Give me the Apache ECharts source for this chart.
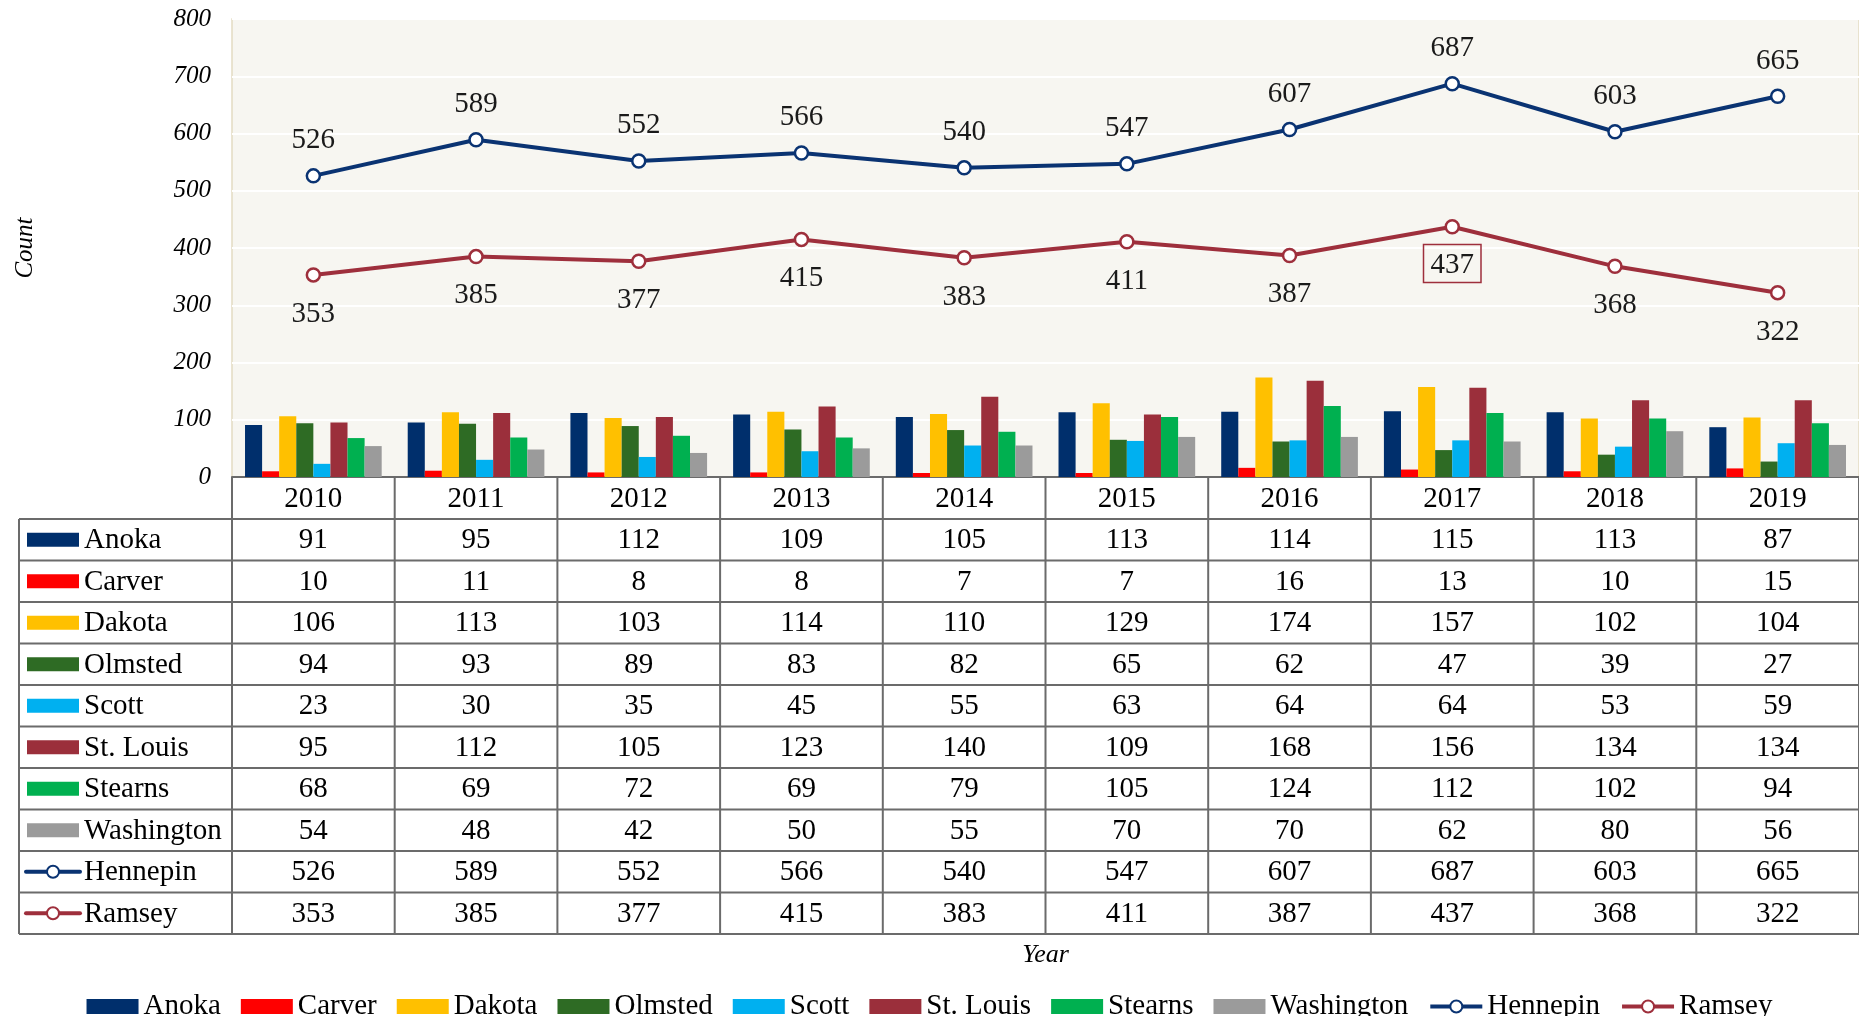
<!DOCTYPE html>
<html>
<head>
<meta charset="utf-8">
<title>County counts 2010-2019</title>
<script src="https://cdn.jsdelivr.net/npm/echarts@6/dist/echarts.min.js"></script>
<style>
    html, body { margin: 0; padding: 0; background: #ffffff; }
    #chart { width: 1859px; height: 1016px; }
</style>
</head>
<body>
<div id="chart"></div>
<script>
// chart values
const years = ['2010', '2011', '2012', '2013', '2014', '2015', '2016', '2017', '2018', '2019'];

const anoka = [91, 95, 112, 109, 105, 113, 114, 115, 113, 87];
const carver = [10, 11, 8, 8, 7, 7, 16, 13, 10, 15];
const dakota = [106, 113, 103, 114, 110, 129, 174, 157, 102, 104];
const olmsted = [94, 93, 89, 83, 82, 65, 62, 47, 39, 27];
const scott = [23, 30, 35, 45, 55, 63, 64, 64, 53, 59];
const stLouis = [95, 112, 105, 123, 140, 109, 168, 156, 134, 134];
const stearns = [68, 69, 72, 69, 79, 105, 124, 112, 102, 94];
const washington = [54, 48, 42, 50, 55, 70, 70, 62, 80, 56];
const hennepin = [526, 589, 552, 566, 540, 547, 607, 687, 603, 665];
const ramsey = [353, 385, 377, 415, 383, 411, 387, 437, 368, 322];

const yTicks = [0, 100, 200, 300, 400, 500, 600, 700, 800];

const FONT = '"Liberation Serif", "Times New Roman", serif';

const barSeries = [
    { name: 'Anoka', data: anoka, color: '#002f6c' },
    { name: 'Carver', data: carver, color: '#ff0000' },
    { name: 'Dakota', data: dakota, color: '#ffc000' },
    { name: 'Olmsted', data: olmsted, color: '#2e6b24' },
    { name: 'Scott', data: scott, color: '#00b0f0' },
    { name: 'St. Louis', data: stLouis, color: '#9b2f3b' },
    { name: 'Stearns', data: stearns, color: '#00b050' },
    { name: 'Washington', data: washington, color: '#9b9b9b' }
];

const lineSeries = [
    { name: 'Hennepin', data: hennepin, color: '#0a3372', labelPos: 'top', dist: 13 },
    { name: 'Ramsey', data: ramsey, color: '#9e2f3c', labelPos: 'bottom', dist: 17 }
];

const GRID = { left: 232, top: 19, right: -4, bottom: 539 };
const TABLE_LEFT = 19;
const HEADER_BOTTOM = 519;
const ROW_H = 41.5;
const TABLE_FONT = 29;

const chart = echarts.init(document.getElementById('chart'));

function buildLineData(s) {
    return s.data.map((v, i) => {
        // the 2017 Ramsey point carries a framed label
        if (s.name === 'Ramsey' && i === 7) {
            return {
                value: v,
                label: {
                    borderColor: s.color,
                    borderWidth: 1.5,
                    padding: [6, 7, 3, 7],
                    distance: 10
                }
            };
        }
        return v;
    });
}

const option = {
    animation: false,
    textStyle: { fontFamily: FONT },
    grid: {
        left: GRID.left,
        top: GRID.top,
        right: GRID.right,
        bottom: GRID.bottom,
        show: true,
        backgroundColor: '#f7f6f1',
        borderColor: '#e4dcc2',
        borderWidth: 1.5
    },
    legend: {
        top: 987,
        left: 'center',
        itemWidth: 52,
        itemHeight: 15,
        itemGap: 20,
        textStyle: { fontFamily: FONT, fontSize: 29, color: '#000' },
        data: barSeries.map(s => ({ name: s.name, icon: 'rect' }))
            .concat(lineSeries.map(s => ({
                name: s.name,
                lineStyle: { width: 4 },
                itemStyle: { borderWidth: 2 }
            })))
    },
    xAxis: {
        type: 'category',
        data: years,
        name: 'Year',
        nameLocation: 'middle',
        nameGap: 465,
        nameTextStyle: { fontFamily: FONT, fontSize: 26, fontStyle: 'italic', color: '#000' },
        axisLine: { show: true, lineStyle: { color: '#6b6b6b', width: 2 } },
        axisTick: { show: false },
        axisLabel: { show: false }
    },
    yAxis: {
        type: 'value',
        min: yTicks[0],
        max: yTicks[yTicks.length - 1],
        interval: 100,
        name: 'Count',
        nameLocation: 'middle',
        nameRotate: 90,
        nameGap: 194,
        nameTextStyle: { fontFamily: FONT, fontSize: 25, fontStyle: 'italic', color: '#000' },
        axisLine: { show: false },
        axisTick: { show: false },
        axisLabel: {
            margin: 21,
            fontFamily: FONT,
            fontSize: 25,
            fontStyle: 'italic',
            color: '#000'
        },
        splitLine: { lineStyle: { color: '#ffffff', width: 2 } }
    },
    series: barSeries.map(s => ({
        name: s.name,
        type: 'bar',
        data: s.data,
        barGap: '0%',
        barCategoryGap: '16%',
        itemStyle: { color: s.color }
    })).concat(lineSeries.map(s => ({
        name: s.name,
        type: 'line',
        data: buildLineData(s),
        symbol: 'circle',
        symbolSize: 13,
        z: 5,
        lineStyle: { color: s.color, width: 4 },
        itemStyle: { color: '#ffffff', borderColor: s.color, borderWidth: 2.5 },
        label: {
            show: true,
            position: s.labelPos,
            distance: s.dist,
            fontFamily: FONT,
            fontSize: 29,
            color: '#1a1a1a'
        }
    })))
};

chart.setOption(option);

// data table under the plot, lined up with the category axis
function buildTable() {
    const centers = years.map(y => chart.convertToPixel({ xAxisIndex: 0 }, y));
    const colW = centers[1] - centers[0];
    const plotLeft = GRID.left;
    const plotRight = centers[centers.length - 1] + colW / 2;
    const axisY = chart.convertToPixel({ yAxisIndex: 0 }, 0);
    const rows = barSeries.concat(lineSeries);
    const tableBottom = HEADER_BOTTOM + ROW_H * rows.length;
    const lineColor = '#6b6b6b';
    const els = [];

    const hLine = (x1, x2, y) => els.push({
        type: 'line', shape: { x1, y1: y, x2, y2: y },
        style: { stroke: lineColor, lineWidth: 2 }, z: 10
    });
    const vLine = (x, y1, y2) => els.push({
        type: 'line', shape: { x1: x, y1, x2: x, y2 },
        style: { stroke: lineColor, lineWidth: 2 }, z: 10
    });
    const cellText = (text, x, y, align) => els.push({
        type: 'text', x, y, z: 11,
        style: {
            text, fontFamily: FONT, fontSize: TABLE_FONT, fill: '#000',
            align: align || 'center', verticalAlign: 'middle'
        }
    });

    // horizontal rules
    hLine(TABLE_LEFT, plotRight, HEADER_BOTTOM);
    for (let r = 1; r <= rows.length; r++) {
        hLine(TABLE_LEFT, plotRight, HEADER_BOTTOM + ROW_H * r);
    }
    // vertical rules
    vLine(TABLE_LEFT, HEADER_BOTTOM, tableBottom);
    for (let c = 0; c <= years.length; c++) {
        vLine(plotLeft + colW * c, axisY, tableBottom);
    }

    // header with the years
    years.forEach((y, c) => cellText(y, centers[c], (axisY + HEADER_BOTTOM) / 2 + 1));

    rows.forEach((s, r) => {
        const cy = HEADER_BOTTOM + ROW_H * (r + 0.5) + 1;
        if (lineSeries.includes(s)) {
            els.push({
                type: 'line', shape: { x1: 26, y1: cy - 1, x2: 80, y2: cy - 1 },
                style: { stroke: s.color, lineWidth: 4, lineCap: 'round' }, z: 11
            });
            els.push({
                type: 'circle', shape: { cx: 53, cy: cy - 1, r: 6 },
                style: { fill: '#fff', stroke: s.color, lineWidth: 2 }, z: 12
            });
        } else {
            els.push({
                type: 'rect', shape: { x: 27, y: cy - 8, width: 52, height: 14 },
                style: { fill: s.color }, z: 11
            });
        }
        cellText(s.name, 84, cy, 'left');
        s.data.forEach((v, c) => cellText(String(v), centers[c], cy));
    });

    chart.setOption({ graphic: { elements: els } });
}

buildTable();
window.addEventListener('resize', () => chart.resize());
</script>
</body>
</html>
